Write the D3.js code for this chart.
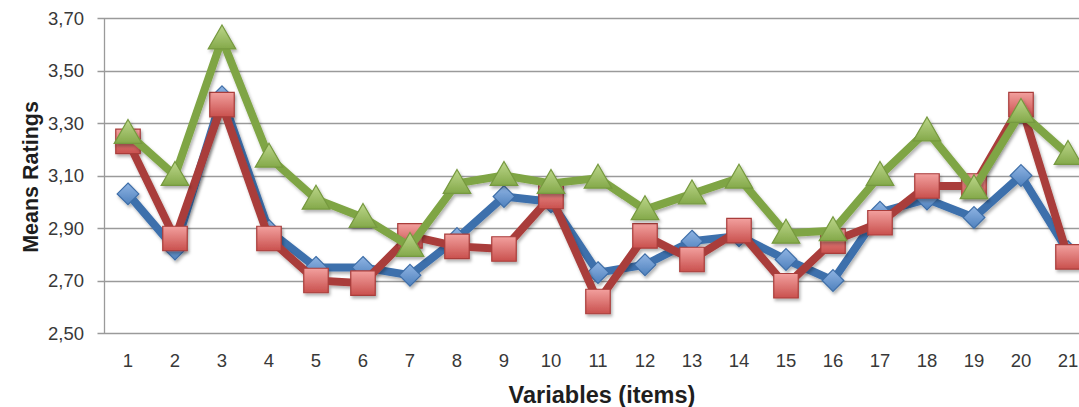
<!DOCTYPE html>
<html>
<head>
<meta charset="utf-8">
<script src="https://cdn.jsdelivr.net/npm/d3@7"></script>
<style>
  html, body { margin: 0; padding: 0; background: #fff; overflow: hidden; }
  svg { display: block; font-family: "Liberation Sans", Arial, sans-serif; }
</style>
</head>
<body>
<svg id="chart" width="1079" height="407"></svg>
<script>
const categories = ["1","2","3","4","5","6","7","8","9","10","11","12","13","14","15","16","17","18","19","20","21"];
const seriesBlue  = [3.03,2.82,3.40,2.89,2.75,2.75,2.72,2.86,3.02,3.00,2.73,2.76,2.85,2.87,2.78,2.70,2.96,3.01,2.94,3.10,2.81];
const seriesRed   = [3.23,2.86,3.37,2.86,2.70,2.69,2.87,2.83,2.82,3.02,2.62,2.87,2.78,2.89,2.68,2.85,2.92,3.06,3.06,3.37,2.79];
const seriesGreen = [3.26,3.10,3.62,3.17,3.01,2.94,2.83,3.07,3.10,3.07,3.09,2.97,3.03,3.09,2.88,2.89,3.10,3.27,3.05,3.34,3.18];
const yTicks = [2.5,2.7,2.9,3.1,3.3,3.5,3.7];
const yTickLabels = ["2,50","2,70","2,90","3,10","3,30","3,50","3,70"];

const svg = d3.select("#chart");
const margin = {left: 104.5, top: 18, bottom: 74};
const plotW = 47 * categories.length;
const plotH = 407 - margin.top - margin.bottom;

const x = d3.scaleBand().domain(categories).range([margin.left, margin.left + plotW]);
const y = d3.scaleLinear().domain([2.5, 3.7]).range([margin.top + plotH, margin.top]);

const defs = svg.append("defs");
const f = defs.append("filter").attr("id","shadow").attr("x","-30%").attr("y","-30%").attr("width","160%").attr("height","160%");
f.append("feDropShadow").attr("dx",1.5).attr("dy",2.5).attr("stdDeviation",1.8).attr("flood-color","#000").attr("flood-opacity",0.3);

function grad(id, c1, c2) {
  const g = defs.append("linearGradient").attr("id", id).attr("x1","0").attr("y1","0").attr("x2","0").attr("y2","1");
  g.append("stop").attr("offset","0%").attr("stop-color", c1);
  g.append("stop").attr("offset","100%").attr("stop-color", c2);
}
grad("gBlue", "#8fb4e3", "#4f81bd");
grad("gRed", "#f2a09e", "#c9504d");
grad("gGreen", "#bcd68a", "#84a94a");

// gridlines
const gGrid = svg.append("g");
gGrid.selectAll("line").data(yTicks).join("line")
  .attr("x1", margin.left - 7).attr("x2", margin.left + plotW)
  .attr("y1", d => Math.round(y(d)) + 0.5).attr("y2", d => Math.round(y(d)) + 0.5)
  .attr("stroke", "#9a9a9a").attr("stroke-width", 1.3);

// y axis line
svg.append("line")
  .attr("x1", margin.left).attr("x2", margin.left)
  .attr("y1", y(3.7)).attr("y2", y(2.5))
  .attr("stroke", "#9a9a9a").attr("stroke-width", 1.3);

// y tick labels
svg.append("g").selectAll("text").data(yTicks).join("text")
  .attr("x", 84).attr("y", d => y(d) + 6.5)
  .attr("text-anchor", "end")
  .attr("font-size", 18.5).attr("fill", "#383838")
  .text((d,i) => yTickLabels[i]);

// x tick labels
svg.append("g").selectAll("text").data(categories).join("text")
  .attr("x", d => x(d) + x.bandwidth()/2).attr("y", 367)
  .attr("text-anchor", "middle")
  .attr("font-size", 18.5).attr("fill", "#383838")
  .text(d => d);

// axis titles
svg.append("text")
  .attr("transform", `translate(38, 177) rotate(-90)`)
  .attr("text-anchor", "middle").attr("font-size", 21.5).attr("font-weight", "bold").attr("fill", "#1e1e1e")
  .text("Means Ratings");
svg.append("text")
  .attr("x", 602).attr("y", 403)
  .attr("text-anchor", "middle").attr("font-size", 23.5).attr("font-weight", "bold").attr("fill", "#1e1e1e")
  .text("Variables (items)");

const cx = d => x(d) + x.bandwidth()/2;
const series = [
  {values: seriesBlue, line: "#3c6fac", fill: "url(#gBlue)", stroke: "#3e6ea8", shape: "diamond"},
  {values: seriesRed, line: "#a93d3a", fill: "url(#gRed)", stroke: "#a93d3a", shape: "square"},
  {values: seriesGreen, line: "#7fa544", fill: "url(#gGreen)", stroke: "#76993f", shape: "triangle"}
];

const lineGen = d3.line().x((d,i) => cx(categories[i])).y(d => y(d));

series.forEach(s => {
  const g = svg.append("g").attr("filter", "url(#shadow)");
  g.append("path").datum(s.values).attr("d", lineGen)
    .attr("fill", "none").attr("stroke", s.line).attr("stroke-width", 8).attr("stroke-linejoin", "round");
  let sym;
  if (s.shape === "diamond") sym = d3.symbol().type(d3.symbolDiamond2).size(300);
  else if (s.shape === "square") sym = d3.symbol().type(d3.symbolSquare).size(600);
  else sym = d3.symbol().type(d3.symbolTriangle).size(330);
  g.selectAll("path.m").data(s.values).join("path").attr("class","m")
    .attr("d", sym)
    .attr("transform", (d,i) => {
      const yy = s.shape === "triangle" ? y(d) + 2 : y(d);
      return `translate(${cx(categories[i])},${yy})`;
    })
    .attr("fill", s.fill).attr("stroke", s.stroke).attr("stroke-width", 1.2);
});
</script>
</body>
</html>
